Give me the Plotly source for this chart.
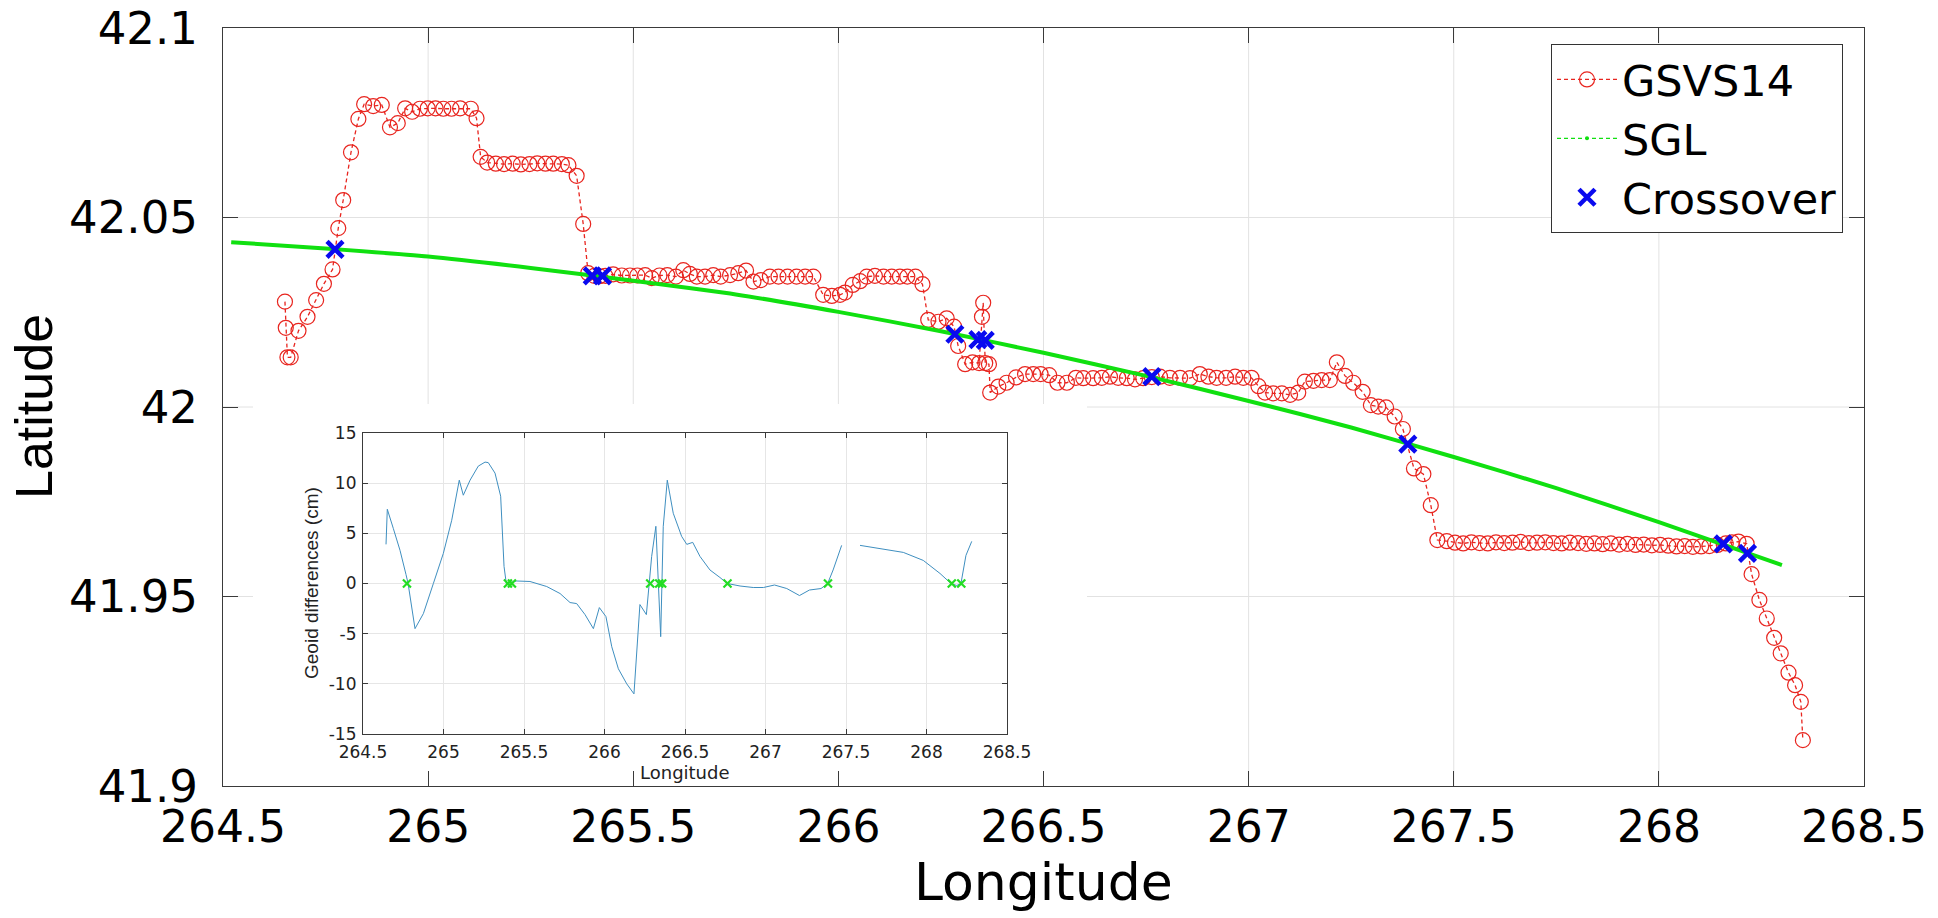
import plotly.graph_objects as go

# ---------------- data ----------------
gsvs_lon = [264.651, 264.653, 264.657, 264.665, 264.684, 264.706, 264.727, 264.746, 264.767, 264.781,
            264.793, 264.812, 264.830, 264.844, 264.866, 264.887, 264.907, 264.926, 264.944, 264.961,
            264.980, 264.999, 265.018, 265.037, 265.057, 265.078, 265.104, 265.118, 265.128, 265.144,
            265.165, 265.185, 265.206, 265.226, 265.247, 265.266, 265.286, 265.305, 265.326, 265.342,
            265.362, 265.378, 265.390, 265.405, 265.418, 265.432, 265.451, 265.472, 265.492, 265.510,
            265.529, 265.545, 265.564, 265.583, 265.604, 265.622, 265.638, 265.655, 265.675, 265.695,
            265.713, 265.736, 265.756, 265.775, 265.793, 265.811, 265.833, 265.854, 265.876, 265.898,
            265.919, 265.939, 265.963, 265.984, 266.004, 266.016, 266.035, 266.053, 266.069, 266.089,
            266.110, 266.130, 266.150, 266.168, 266.188, 266.205, 266.219, 266.244, 266.264, 266.282,
            266.292, 266.309, 266.327, 266.343, 266.350, 266.353, 266.358, 266.367, 266.370, 266.390,
            266.410, 266.433, 266.455, 266.475, 266.493, 266.514, 266.534, 266.557, 266.579, 266.597,
            266.621, 266.642, 266.662, 266.682, 266.703, 266.723, 266.743, 266.764, 266.784, 266.808,
            266.833, 266.857, 266.881, 266.902, 266.922, 266.945, 266.967, 266.987, 267.007, 267.024,
            267.040, 267.060, 267.081, 267.101, 267.121, 267.137, 267.158, 267.178, 267.198, 267.215,
            267.235, 267.255, 267.278, 267.298, 267.316, 267.335, 267.356, 267.376, 267.403, 267.426,
            267.444, 267.460, 267.483, 267.503, 267.523, 267.543, 267.563, 267.583, 267.603, 267.623,
            267.643, 267.663, 267.683, 267.703, 267.723, 267.743, 267.763, 267.783, 267.803, 267.823,
            267.843, 267.863, 267.883, 267.903, 267.923, 267.943, 267.963, 267.983, 268.003, 268.023,
            268.043, 268.063, 268.083, 268.103, 268.123, 268.143, 268.163, 268.178, 268.194, 268.214,
            268.226, 268.245, 268.263, 268.281, 268.297, 268.316, 268.332, 268.346, 268.351]
gsvs_lat = [42.0278, 42.0209, 42.0131, 42.0131, 42.0201, 42.0238, 42.0282, 42.0325, 42.0363, 42.0472,
            42.0546, 42.0672, 42.0760, 42.0799, 42.0794, 42.0797, 42.0738, 42.0749, 42.0788, 42.0779,
            42.0787, 42.0788, 42.0788, 42.0787, 42.0787, 42.0788, 42.0787, 42.0762, 42.0660, 42.0645,
            42.0642, 42.0641, 42.0642, 42.0640, 42.0641, 42.0643, 42.0642, 42.0642, 42.0641, 42.0638,
            42.0610, 42.0483, 42.0353, 42.0346, 42.0345, 42.0346, 42.0350, 42.0347, 42.0347, 42.0347,
            42.0348, 42.0340, 42.0347, 42.0348, 42.0344, 42.0361, 42.0351, 42.0344, 42.0344, 42.0348,
            42.0344, 42.0348, 42.0353, 42.0360, 42.0331, 42.0335, 42.0344, 42.0344, 42.0344, 42.0344,
            42.0344, 42.0344, 42.0296, 42.0293, 42.0296, 42.0302, 42.0322, 42.0332, 42.0344, 42.0346,
            42.0344, 42.0344, 42.0344, 42.0344, 42.0344, 42.0324, 42.0230, 42.0225, 42.0234, 42.0212,
            42.0161, 42.0113, 42.0118, 42.0116, 42.0238, 42.0275, 42.0116, 42.0113, 42.0038, 42.0054,
            42.0064, 42.0078, 42.0087, 42.0087, 42.0087, 42.0084, 42.0064, 42.0064, 42.0077, 42.0076,
            42.0076, 42.0077, 42.0080, 42.0077, 42.0076, 42.0073, 42.0076, 42.0079, 42.0080, 42.0077,
            42.0077, 42.0076, 42.0087, 42.0080, 42.0077, 42.0077, 42.0080, 42.0077, 42.0077, 42.0055,
            42.0038, 42.0036, 42.0036, 42.0032, 42.0038, 42.0067, 42.0069, 42.0071, 42.0071, 42.0118,
            42.0082, 42.0064, 42.0040, 42.0005, 42.0001, 41.9999, 41.9975, 41.9942, 41.9838, 41.9823,
            41.9741, 41.9649, 41.9646, 41.9642, 41.9640, 41.9643, 41.9641, 41.9640, 41.9643, 41.9641,
            41.9642, 41.9644, 41.9641, 41.9642, 41.9643, 41.9641, 41.9640, 41.9642, 41.9641, 41.9639,
            41.9640, 41.9638, 41.9640, 41.9637, 41.9639, 41.9636, 41.9637, 41.9635, 41.9636, 41.9634,
            41.9632, 41.9633, 41.9631, 41.9632, 41.9633, 41.9636, 41.9640, 41.9643, 41.9645, 41.9639,
            41.9559, 41.9491, 41.9442, 41.9391, 41.9350, 41.9299, 41.9266, 41.9222, 41.9121]

sgl_lon = [264.52, 264.75, 265.00, 265.25, 265.50, 265.75, 266.00, 266.25, 266.50, 266.75,
           267.00, 267.25, 267.50, 267.75, 268.00, 268.30]
sgl_lat = [42.0435, 42.0418, 42.0397, 42.0367, 42.0333, 42.0297, 42.0251, 42.0200, 42.0143, 42.0082,
           42.0016, 41.9946, 41.9868, 41.9786, 41.9696, 41.9583]

cross_lon = [264.773, 265.400, 265.425, 266.284, 266.340, 266.358, 266.764, 267.388, 268.157, 268.216]
cross_lat = [42.0416, 42.0346, 42.0346, 42.0192, 42.0178, 42.0176, 42.0080, 41.9902, 41.9639, 41.9614]
cross_diff = [0, 0, 0, 0, 0, 0, 0, 0, 0, 0]

diff_lon = [264.643, 264.651, 264.688, 264.730, 264.767, 264.780, 264.823, 264.875, 264.937, 264.999,
            265.051, 265.098, 265.123, 265.165, 265.216, 265.258, 265.278, 265.320, 265.355, 265.376,
            265.390, 265.455, 265.537, 265.641, 265.724, 265.786, 265.827, 265.879, 265.931, 265.968,
            266.009, 266.045, 266.086, 266.138, 266.183, 266.220, 266.260, 266.293, 266.319, 266.349,
            266.365, 266.390, 266.427, 266.479, 266.511, 266.548, 266.593, 266.655, 266.717, 266.763,
            266.842, 266.924, 266.987, 267.056, 267.132, 267.211, 267.273, 267.345, 267.386, 267.420,
            267.473, 267.530, 267.587, 267.711, 267.856, 267.980, 268.084, 268.152, 268.188, 268.214,
            268.245, 268.281]
diff_cm = [3.9, 7.4, 5.5, 3.3, 0.9, 0.0, -4.5, -3.0, 0.0, 3.0,
           6.3, 10.3, 8.8, 10.3, 11.7, 12.1, 12.05, 11.0, 8.7, 1.7,
           0.0, 0.25, 0.2, -0.3, -1.0, -1.9, -2.0, -3.1, -4.5, -2.4,
           -3.3, -6.3, -8.5, -10.0, -11.0, -2.1, -3.1, 2.7, 5.7, -5.3,
           5.7, 10.3, 7.0, 4.7, 3.9, 4.1, 2.7, 1.35, 0.6, 0.0,
           -0.25, -0.4, -0.4, -0.15, -0.5, -1.2, -0.65, -0.5, 0.0, 1.35,
           3.8, None, 3.8, 3.5, 3.1, 2.3, 1.0, 0.0, -0.2, 0.0,
           2.8, 4.2]

x_ticks = [264.5, 265, 265.5, 266, 266.5, 267, 267.5, 268, 268.5]
x_ticktext = ["264.5", "265", "265.5", "266", "266.5", "267", "267.5", "268", "268.5"]
y_ticks = [41.9, 41.95, 42.0, 42.05, 42.1]
y_ticktext = ["41.9", "41.95", "42", "42.05", "42.1"]
y2_ticks = [-15, -10, -5, 0, 5, 10, 15]
y2_ticktext = ["-15", "-10", "-5", "0", "5", "10", "15"]

X_RANGE = [264.5, 268.5]
Y_RANGE = [41.9, 42.1]

# ---------------- figure ----------------
W, H = 1938, 918
ML, MR, MT, MB = 223, 74, 28, 132
PW, PH = W - ML - MR, H - MT - MB

def px_x(p):
    return (p - ML) / PW

def px_y(p):
    return (H - MB - p) / PH

RED = "#e8251f"
GREEN = "#10e010"
BLUE = "#0a0aef"
GRID = "#e2e2e2"

fig = go.Figure()

fig.add_trace(go.Scatter(x=gsvs_lon, y=gsvs_lat, mode="lines+markers", name="GSVS14",
                         line=dict(color=RED, width=1.3, dash="4px,3px"),
                         marker=dict(symbol="circle-open", size=15, color=RED, line=dict(width=1.2, color=RED)),
                         xaxis="x", yaxis="y"))
fig.add_trace(go.Scatter(x=sgl_lon, y=sgl_lat, mode="lines", name="SGL", showlegend=False,
                         line=dict(color=GREEN, width=4, shape="spline", smoothing=0.6),
                         xaxis="x", yaxis="y"))
fig.add_trace(go.Scatter(x=[None], y=[None], mode="lines+markers", name="SGL",
                         line=dict(color=GREEN, width=1.3, dash="4px,3px"),
                         marker=dict(symbol="circle", size=4, color=GREEN),
                         xaxis="x", yaxis="y"))
fig.add_trace(go.Scatter(x=cross_lon, y=cross_lat, mode="markers", name="Crossover",
                         marker=dict(symbol="x-thin-open", size=16, color=BLUE, line=dict(width=4.5, color=BLUE)),
                         xaxis="x", yaxis="y"))

# inset
fig.add_trace(go.Scatter(x=diff_lon, y=diff_cm, mode="lines", showlegend=False,
                         line=dict(color="#3f8fc0", width=1), connectgaps=False,
                         xaxis="x2", yaxis="y2"))
fig.add_trace(go.Scatter(x=cross_lon, y=cross_diff, mode="markers", showlegend=False,
                         marker=dict(symbol="x-thin-open", size=8, color="#22dd22", line=dict(width=2.2, color="#22dd22")),
                         xaxis="x2", yaxis="y2"))

axis_common = dict(showline=True, linecolor="#3a3a3a", linewidth=1.2, mirror="ticks",
                   ticks="inside", tickcolor="#3a3a3a", tickwidth=1.2, zeroline=False,
                   automargin=False)

inset_x0, inset_x1 = px_x(363), px_x(1007)
inset_y0, inset_y1 = px_y(734), px_y(433)

# white panel behind the inset hides the main grid there
bx0, bx1, by0, by1 = px_x(253), px_x(1087), px_y(785), px_y(404)

shapes = []
for v in x_ticks[1:-1]:
    f = (v - X_RANGE[0]) / (X_RANGE[1] - X_RANGE[0])
    ystart = by1 if bx0 <= f <= bx1 else 0
    shapes.append(dict(type="line", xref="x domain", yref="y domain", x0=f, x1=f, y0=ystart, y1=1,
                       line=dict(color=GRID, width=1), layer="below"))
for v in y_ticks[1:-1]:
    f = (v - Y_RANGE[0]) / (Y_RANGE[1] - Y_RANGE[0])
    if by0 <= f <= by1:
        segs = [(0, bx0), (bx1, 1)]
    else:
        segs = [(0, 1)]
    for a, b in segs:
        shapes.append(dict(type="line", xref="x domain", yref="y domain", x0=a, x1=b, y0=f, y1=f,
                           line=dict(color=GRID, width=1), layer="below"))

fig.update_layout(
    width=W, height=H, autosize=False,
    margin=dict(l=ML, r=MR, t=MT, b=MB, pad=0),
    paper_bgcolor="white", plot_bgcolor="white",
    xaxis=dict(domain=[0, 1], range=X_RANGE, tickvals=x_ticks, ticktext=x_ticktext,
               ticklen=15, ticklabelstandoff=2, showgrid=False,
               tickfont=dict(family="DejaVu Sans", size=44, color="black"), **axis_common),
    yaxis=dict(domain=[0, 1], range=Y_RANGE, tickvals=y_ticks, ticktext=y_ticktext,
               ticklen=15, ticklabelstandoff=15, showgrid=False,
               tickfont=dict(family="DejaVu Sans", size=45, color="black"), **axis_common),
    xaxis2=dict(domain=[inset_x0, inset_x1], anchor="y2", range=X_RANGE,
                tickvals=x_ticks, ticktext=x_ticktext, ticklen=5, ticklabelstandoff=2,
                showgrid=True, gridcolor="#e6e6e6", gridwidth=1,
                tickfont=dict(family="DejaVu Sans", size=17, color="#222"), **axis_common),
    yaxis2=dict(domain=[inset_y0, inset_y1], anchor="x2", range=[-15, 15],
                tickvals=y2_ticks, ticktext=y2_ticktext, ticklen=5, ticklabelstandoff=2,
                showgrid=True, gridcolor="#e6e6e6", gridwidth=1,
                tickfont=dict(family="DejaVu Sans", size=17, color="#222"), **axis_common),
    legend=dict(x=px_x(1843), y=px_y(44), xanchor="right", yanchor="top",
                bgcolor="white", bordercolor="#333", borderwidth=1,
                font=dict(family="DejaVu Sans", size=43, color="black"),
                itemwidth=60, tracegroupgap=0),
    shapes=shapes,
    annotations=[
        dict(text="Latitude", xref="paper", yref="paper", x=px_x(34), y=0.5,
             xanchor="center", yanchor="middle", textangle=-90, showarrow=False,
             font=dict(family="Liberation Sans", size=52, color="black")),
        dict(text="Longitude", xref="paper", yref="paper", x=0.5, y=px_y(882),
             xanchor="center", yanchor="middle", showarrow=False,
             font=dict(family="DejaVu Sans", size=52, color="black")),
        dict(text="Geoid differences (cm)", xref="paper", yref="paper", x=px_x(311), y=px_y(583),
             xanchor="center", yanchor="middle", textangle=-90, showarrow=False,
             font=dict(family="Liberation Sans", size=19, color="#222")),
        dict(text="Longitude", xref="paper", yref="paper", x=px_x(685), y=px_y(772),
             xanchor="center", yanchor="middle", showarrow=False,
             font=dict(family="DejaVu Sans", size=18, color="#222")),
    ],
)

fig.write_html("out.html")
